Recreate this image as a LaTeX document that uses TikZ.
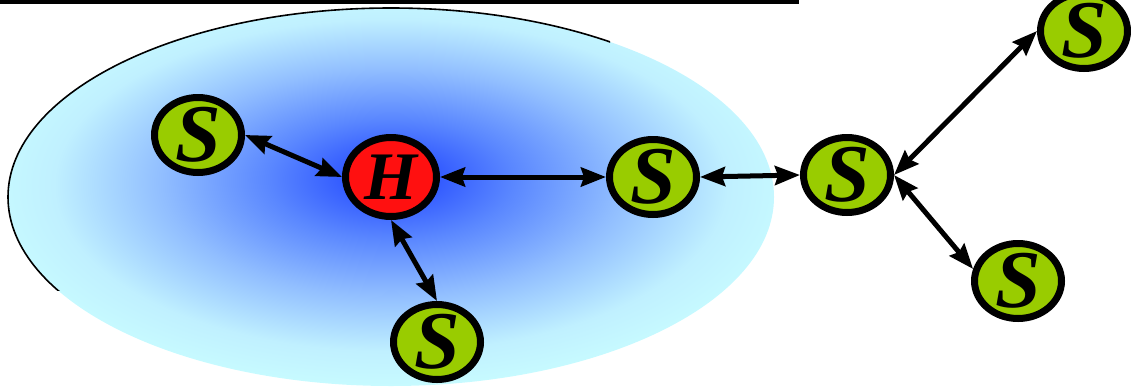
\documentclass[tikz,border=0pt]{standalone}
\usepackage{fontspec}
\setmainfont{Liberation Serif}
\usetikzlibrary{arrows.meta,shapes.geometric}
\definecolor{nodegreen}{RGB}{153,204,0}
\definecolor{hubred}{RGB}{255,16,16}
\definecolor{deepblue}{RGB}{50,90,255}
\definecolor{midblue}{RGB}{90,135,255}
\definecolor{lightblue}{RGB}{145,190,255}
\definecolor{paleblue}{RGB}{192,240,255}
\definecolor{palecyan}{RGB}{200,252,255}
\pgfdeclareradialshading{cloudshade}{\pgfpoint{0bp}{2.8bp}}{color(0bp)=(deepblue); color(3bp)=(deepblue); color(8bp)=(midblue); color(15bp)=(lightblue); color(22bp)=(paleblue); color(27bp)=(palecyan); color(50bp)=(palecyan)}
\tikzset{
  snode/.style={ellipse, draw=black, line width=7pt, fill=nodegreen,
    minimum width=87pt, minimum height=75pt, inner sep=-14pt,
    font=\fontsize{82}{82}\selectfont\bfseries\itshape},
  hnode/.style={snode, fill=hubred, minimum width=91pt, minimum height=79pt,
    font=\fontsize{68}{68}\selectfont\bfseries\itshape},
  link/.style={line width=5pt,
    {Stealth[length=25pt,width=19pt,inset=3pt]}-{Stealth[length=25pt,width=19pt,inset=3pt]}},
  rimline/.style={line width=1.6pt, draw=black},
  topbar/.style={line width=4pt, draw=black}
}
\begin{document}
\begin{tikzpicture}[x=1pt,y=-1pt]
\useasboundingbox (0,0) rectangle (1131,386);
% top bar
\draw[topbar] (0,1.5) -- (799,1.5);
% shaded cloud
\shade[shading=cloudshade] (391,197) ellipse [x radius=383, y radius=189];
\begin{scope}
  \clip (0,0) rectangle (610,290);
  \draw[rimline] (391,197) ellipse [x radius=383, y radius=189];
\end{scope}
% nodes
\node[hnode] (h) at (391,177) {H};
\node[snode] (s1) at (198,135) {S};
\node[snode] (s2) at (437,342) {S};
\node[snode] (s3) at (653,177) {S};
\node[snode] (s4) at (847,175) {S};
\node[snode] (s5) at (1084,31) {S};
\node[snode] (s6) at (1018,281) {S};
% links
\draw[link] (s1.east) -- (h.west);
\draw[link] (h.south) -- (s2.north);
\draw[link] (h.east) -- (s3.west);
\draw[link] (s3.east) -- (s4.west);
\draw[link] (s4.east) -- (s5.west);
\draw[link] (s4.east) -- (s6.165);
\end{tikzpicture}
\end{document}
